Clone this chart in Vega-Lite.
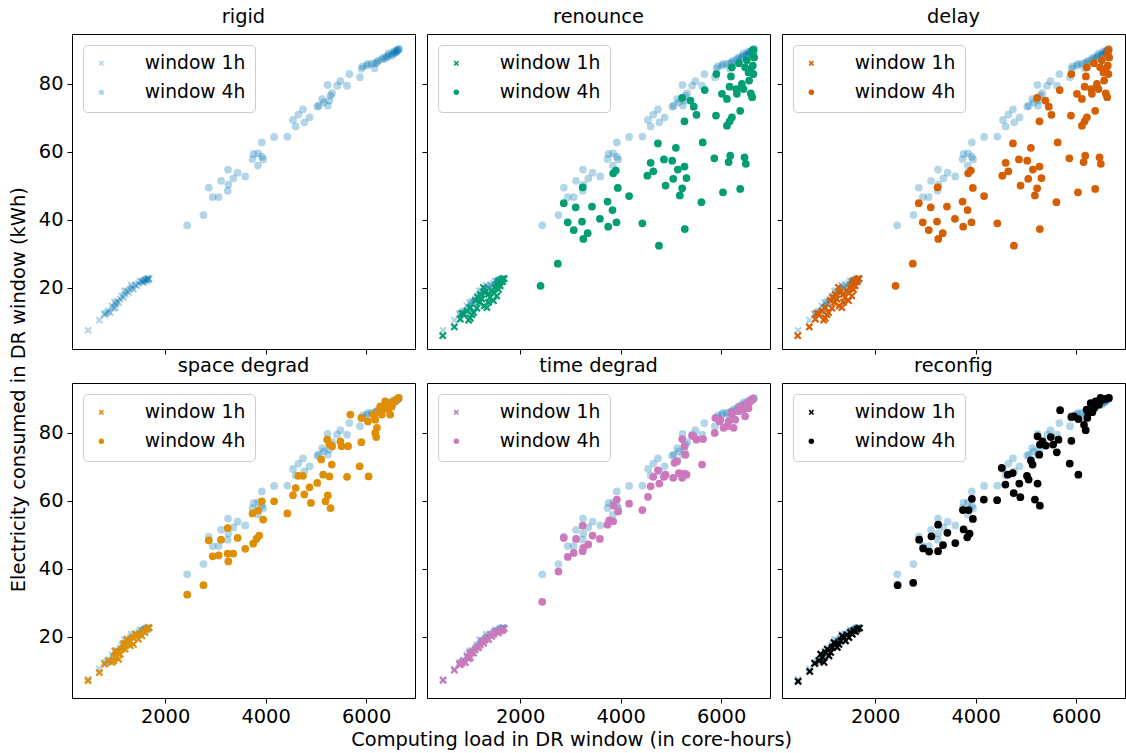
{
"$schema": "https://vega.github.io/schema/vega-lite/v6.json",
"background": "white",
"padding": {"left": 9, "top": 6, "right": 2, "bottom": 3},
"config": {
  "font": "DejaVu Sans",
  "view": {"stroke": "black", "strokeWidth": 1},
  "axis": {"domain": false, "grid": false, "tickColor": "black", "tickSize": 5, "tickWidth": 1, "labelFont": "DejaVu Sans", "labelFontSize": 19.4, "labelColor": "black", "labelPadding": 4, "title": null},
  "title": {"font": "DejaVu Sans", "fontSize": 19.4, "fontWeight": "normal", "color": "black"},
  "legend": {"title": null, "orient": "top-left", "offset": 11, "padding": 9, "fillColor": "white", "strokeColor": "#cccccc", "cornerRadius": 4, "labelFont": "DejaVu Sans", "labelFontSize": 18.7, "labelColor": "black", "symbolSize": 30, "symbolStrokeWidth": 0, "rowPadding": 9, "labelOffset": 34, "symbolOffset": 0}
},
"data": {"values": [
{"p":"rigid","w":"1h","x":468,"y":7.5},{"p":"rigid","w":"1h","x":692,"y":10.5},{"p":"rigid","w":"1h","x":791,"y":12.4},{"p":"rigid","w":"1h","x":811,"y":12.1},{"p":"rigid","w":"1h","x":844,"y":12.7},{"p":"rigid","w":"1h","x":877,"y":13.2},{"p":"rigid","w":"1h","x":910,"y":12.7},{"p":"rigid","w":"1h","x":943,"y":14.7},{"p":"rigid","w":"1h","x":976,"y":14.0},{"p":"rigid","w":"1h","x":996,"y":15.7},{"p":"rigid","w":"1h","x":1009,"y":14.2},{"p":"rigid","w":"1h","x":1022,"y":15.2},{"p":"rigid","w":"1h","x":1042,"y":16.0},{"p":"rigid","w":"1h","x":1075,"y":15.7},{"p":"rigid","w":"1h","x":1108,"y":16.7},{"p":"rigid","w":"1h","x":1141,"y":17.6},{"p":"rigid","w":"1h","x":1174,"y":17.2},{"p":"rigid","w":"1h","x":1194,"y":19.1},{"p":"rigid","w":"1h","x":1207,"y":18.1},{"p":"rigid","w":"1h","x":1240,"y":19.1},{"p":"rigid","w":"1h","x":1273,"y":18.6},{"p":"rigid","w":"1h","x":1306,"y":19.6},{"p":"rigid","w":"1h","x":1326,"y":20.8},{"p":"rigid","w":"1h","x":1339,"y":20.1},{"p":"rigid","w":"1h","x":1372,"y":19.6},{"p":"rigid","w":"1h","x":1405,"y":20.9},{"p":"rigid","w":"1h","x":1438,"y":20.6},{"p":"rigid","w":"1h","x":1471,"y":21.3},{"p":"rigid","w":"1h","x":1504,"y":22.0},{"p":"rigid","w":"1h","x":1537,"y":21.9},{"p":"rigid","w":"1h","x":1570,"y":21.6},{"p":"rigid","w":"1h","x":1603,"y":22.2},{"p":"rigid","w":"1h","x":1620,"y":22.5},{"p":"rigid","w":"1h","x":1636,"y":22.1},{"p":"rigid","w":"1h","x":1650,"y":22.7},{"p":"rigid","w":"1h","x":1669,"y":22.5},{"p":"rigid","w":"1h","x":1682,"y":22.6},{"p":"rigid","w":"1h","x":1590,"y":22.3},{"p":"rigid","w":"1h","x":1560,"y":21.8},{"p":"rigid","w":"1h","x":1660,"y":22.8},
{"p":"rigid","w":"4h","x":2441,"y":38.4},{"p":"rigid","w":"4h","x":2764,"y":41.4},{"p":"rigid","w":"4h","x":2870,"y":49.5},{"p":"rigid","w":"4h","x":2949,"y":46.7},{"p":"rigid","w":"4h","x":3068,"y":46.7},{"p":"rigid","w":"4h","x":3114,"y":51.5},{"p":"rigid","w":"4h","x":3246,"y":48.6},{"p":"rigid","w":"4h","x":3259,"y":50.4},{"p":"rigid","w":"4h","x":3253,"y":54.8},{"p":"rigid","w":"4h","x":3358,"y":52.2},{"p":"rigid","w":"4h","x":3444,"y":53.9},{"p":"rigid","w":"4h","x":3596,"y":52.8},{"p":"rigid","w":"4h","x":3741,"y":57.9},{"p":"rigid","w":"4h","x":3761,"y":59.4},{"p":"rigid","w":"4h","x":3853,"y":59.6},{"p":"rigid","w":"4h","x":3847,"y":56.0},{"p":"rigid","w":"4h","x":3926,"y":58.6},{"p":"rigid","w":"4h","x":3952,"y":57.8},{"p":"rigid","w":"4h","x":3926,"y":62.8},{"p":"rigid","w":"4h","x":4170,"y":64.4},{"p":"rigid","w":"4h","x":4434,"y":64.5},{"p":"rigid","w":"4h","x":4546,"y":69.4},{"p":"rigid","w":"4h","x":4599,"y":67.5},{"p":"rigid","w":"4h","x":4652,"y":71.0},{"p":"rigid","w":"4h","x":4744,"y":72.5},{"p":"rigid","w":"4h","x":4771,"y":68.7},{"p":"rigid","w":"4h","x":4876,"y":70.2},{"p":"rigid","w":"4h","x":5028,"y":73.3},{"p":"rigid","w":"4h","x":5061,"y":73.6},{"p":"rigid","w":"4h","x":5127,"y":75.5},{"p":"rigid","w":"4h","x":5160,"y":74.6},{"p":"rigid","w":"4h","x":5239,"y":73.6},{"p":"rigid","w":"4h","x":5272,"y":75.1},{"p":"rigid","w":"4h","x":5292,"y":76.6},{"p":"rigid","w":"4h","x":5325,"y":77.3},{"p":"rigid","w":"4h","x":5233,"y":79.7},{"p":"rigid","w":"4h","x":5424,"y":79.5},{"p":"rigid","w":"4h","x":5490,"y":80.8},{"p":"rigid","w":"4h","x":5622,"y":79.5},{"p":"rigid","w":"4h","x":5668,"y":82.9},{"p":"rigid","w":"4h","x":5879,"y":82.0},{"p":"rigid","w":"4h","x":5912,"y":84.5},{"p":"rigid","w":"4h","x":6018,"y":85.4},{"p":"rigid","w":"4h","x":6117,"y":85.9},{"p":"rigid","w":"4h","x":6170,"y":84.6},{"p":"rigid","w":"4h","x":6216,"y":86.4},{"p":"rigid","w":"4h","x":6249,"y":86.9},{"p":"rigid","w":"4h","x":6348,"y":87.8},{"p":"rigid","w":"4h","x":6381,"y":87.4},{"p":"rigid","w":"4h","x":6447,"y":88.3},{"p":"rigid","w":"4h","x":6513,"y":88.8},{"p":"rigid","w":"4h","x":6579,"y":89.3},{"p":"rigid","w":"4h","x":6645,"y":90.0},{"p":"rigid","w":"4h","x":6447,"y":89.0},{"p":"rigid","w":"4h","x":6546,"y":89.6},{"p":"rigid","w":"4h","x":6612,"y":89.8},{"p":"rigid","w":"4h","x":6658,"y":90.3},{"p":"rigid","w":"4h","x":6513,"y":88.3},{"p":"rigid","w":"4h","x":6414,"y":88.0},{"p":"rigid","w":"4h","x":6315,"y":87.3},{"p":"rigid","w":"4h","x":6183,"y":86.1},{"p":"rigid","w":"4h","x":6038,"y":85.9},{"p":"rigid","w":"4h","x":5932,"y":85.2},{"p":"rigid","w":"4h","x":6600,"y":89.5},{"p":"rigid","w":"4h","x":6630,"y":90.1},{"p":"rigid","w":"4h","x":6570,"y":89.0},
{"p":"renounce","w":"1h","x":461,"y":5.9},{"p":"renounce","w":"1h","x":692,"y":8.5},{"p":"renounce","w":"1h","x":811,"y":10.8},{"p":"renounce","w":"1h","x":877,"y":12.3},{"p":"renounce","w":"1h","x":976,"y":10.5},{"p":"renounce","w":"1h","x":1009,"y":11.1},{"p":"renounce","w":"1h","x":1075,"y":12.7},{"p":"renounce","w":"1h","x":1141,"y":14.0},{"p":"renounce","w":"1h","x":1194,"y":15.7},{"p":"renounce","w":"1h","x":1240,"y":16.7},{"p":"renounce","w":"1h","x":1286,"y":14.7},{"p":"renounce","w":"1h","x":1339,"y":14.2},{"p":"renounce","w":"1h","x":1372,"y":18.1},{"p":"renounce","w":"1h","x":1438,"y":19.3},{"p":"renounce","w":"1h","x":1471,"y":16.2},{"p":"renounce","w":"1h","x":1504,"y":20.1},{"p":"renounce","w":"1h","x":1537,"y":21.1},{"p":"renounce","w":"1h","x":1570,"y":22.1},{"p":"renounce","w":"1h","x":1603,"y":20.6},{"p":"renounce","w":"1h","x":1636,"y":22.5},{"p":"renounce","w":"1h","x":1682,"y":22.7},{"p":"renounce","w":"1h","x":1537,"y":17.6},{"p":"renounce","w":"1h","x":1405,"y":17.2},{"p":"renounce","w":"1h","x":1306,"y":18.6},{"p":"renounce","w":"1h","x":1207,"y":18.1},{"p":"renounce","w":"1h","x":1108,"y":16.2},{"p":"renounce","w":"1h","x":1009,"y":14.2},{"p":"renounce","w":"1h","x":943,"y":13.2},{"p":"renounce","w":"1h","x":844,"y":12.5},{"p":"renounce","w":"1h","x":1042,"y":12.1},{"p":"renounce","w":"1h","x":1372,"y":15.7},{"p":"renounce","w":"1h","x":1471,"y":18.6},{"p":"renounce","w":"1h","x":1603,"y":21.6},{"p":"renounce","w":"1h","x":1273,"y":20.1},{"p":"renounce","w":"1h","x":1154,"y":17.2},{"p":"renounce","w":"1h","x":1650,"y":21.8},{"p":"renounce","w":"1h","x":1570,"y":19.5},
{"p":"renounce","w":"4h","x":2408,"y":20.6},{"p":"renounce","w":"4h","x":2751,"y":27.1},{"p":"renounce","w":"4h","x":2870,"y":44.9},{"p":"renounce","w":"4h","x":2949,"y":39.3},{"p":"renounce","w":"4h","x":3068,"y":37.0},{"p":"renounce","w":"4h","x":3107,"y":43.7},{"p":"renounce","w":"4h","x":3233,"y":39.5},{"p":"renounce","w":"4h","x":3246,"y":49.6},{"p":"renounce","w":"4h","x":3259,"y":34.4},{"p":"renounce","w":"4h","x":3345,"y":36.1},{"p":"renounce","w":"4h","x":3431,"y":43.9},{"p":"renounce","w":"4h","x":3589,"y":40.3},{"p":"renounce","w":"4h","x":3741,"y":45.4},{"p":"renounce","w":"4h","x":3754,"y":38.0},{"p":"renounce","w":"4h","x":3840,"y":42.9},{"p":"renounce","w":"4h","x":3853,"y":53.7},{"p":"renounce","w":"4h","x":3906,"y":54.5},{"p":"renounce","w":"4h","x":3919,"y":39.3},{"p":"renounce","w":"4h","x":3946,"y":49.4},{"p":"renounce","w":"4h","x":4170,"y":47.0},{"p":"renounce","w":"4h","x":4434,"y":39.0},{"p":"renounce","w":"4h","x":4533,"y":53.0},{"p":"renounce","w":"4h","x":4599,"y":56.8},{"p":"renounce","w":"4h","x":4652,"y":54.3},{"p":"renounce","w":"4h","x":4744,"y":62.5},{"p":"renounce","w":"4h","x":4764,"y":32.4},{"p":"renounce","w":"4h","x":4863,"y":57.8},{"p":"renounce","w":"4h","x":4896,"y":50.1},{"p":"renounce","w":"4h","x":5028,"y":57.4},{"p":"renounce","w":"4h","x":5048,"y":52.1},{"p":"renounce","w":"4h","x":5101,"y":61.2},{"p":"renounce","w":"4h","x":5140,"y":54.8},{"p":"renounce","w":"4h","x":5180,"y":47.2},{"p":"renounce","w":"4h","x":5226,"y":49.3},{"p":"renounce","w":"4h","x":5272,"y":55.7},{"p":"renounce","w":"4h","x":5279,"y":37.3},{"p":"renounce","w":"4h","x":5312,"y":52.3},{"p":"renounce","w":"4h","x":5226,"y":75.9},{"p":"renounce","w":"4h","x":5272,"y":69.0},{"p":"renounce","w":"4h","x":5391,"y":75.1},{"p":"renounce","w":"4h","x":5457,"y":73.3},{"p":"renounce","w":"4h","x":5510,"y":70.9},{"p":"renounce","w":"4h","x":5609,"y":45.2},{"p":"renounce","w":"4h","x":5635,"y":62.8},{"p":"renounce","w":"4h","x":5675,"y":78.2},{"p":"renounce","w":"4h","x":5866,"y":58.1},{"p":"renounce","w":"4h","x":5899,"y":70.7},{"p":"renounce","w":"4h","x":5906,"y":82.9},{"p":"renounce","w":"4h","x":6018,"y":77.1},{"p":"renounce","w":"4h","x":6038,"y":48.1},{"p":"renounce","w":"4h","x":6117,"y":75.6},{"p":"renounce","w":"4h","x":6150,"y":57.0},{"p":"renounce","w":"4h","x":6183,"y":58.9},{"p":"renounce","w":"4h","x":6117,"y":67.7},{"p":"renounce","w":"4h","x":6170,"y":69.0},{"p":"renounce","w":"4h","x":6216,"y":70.2},{"p":"renounce","w":"4h","x":6170,"y":79.2},{"p":"renounce","w":"4h","x":6196,"y":82.2},{"p":"renounce","w":"4h","x":6216,"y":84.9},{"p":"renounce","w":"4h","x":6302,"y":78.5},{"p":"renounce","w":"4h","x":6315,"y":77.1},{"p":"renounce","w":"4h","x":6355,"y":86.1},{"p":"renounce","w":"4h","x":6381,"y":72.1},{"p":"renounce","w":"4h","x":6381,"y":49.1},{"p":"renounce","w":"4h","x":6414,"y":80.0},{"p":"renounce","w":"4h","x":6447,"y":78.5},{"p":"renounce","w":"4h","x":6467,"y":58.4},{"p":"renounce","w":"4h","x":6493,"y":56.5},{"p":"renounce","w":"4h","x":6513,"y":87.0},{"p":"renounce","w":"4h","x":6546,"y":83.4},{"p":"renounce","w":"4h","x":6559,"y":81.0},{"p":"renounce","w":"4h","x":6592,"y":77.2},{"p":"renounce","w":"4h","x":6619,"y":76.1},{"p":"renounce","w":"4h","x":6632,"y":85.4},{"p":"renounce","w":"4h","x":6632,"y":88.8},{"p":"renounce","w":"4h","x":6645,"y":90.0},{"p":"renounce","w":"4h","x":6658,"y":87.8},{"p":"renounce","w":"4h","x":6645,"y":82.9},{"p":"renounce","w":"4h","x":6592,"y":84.1},{"p":"renounce","w":"4h","x":6480,"y":84.9},
{"p":"delay","w":"1h","x":461,"y":5.9},{"p":"delay","w":"1h","x":692,"y":8.5},{"p":"delay","w":"1h","x":811,"y":10.8},{"p":"delay","w":"1h","x":877,"y":12.3},{"p":"delay","w":"1h","x":976,"y":10.5},{"p":"delay","w":"1h","x":1009,"y":11.1},{"p":"delay","w":"1h","x":1075,"y":12.7},{"p":"delay","w":"1h","x":1141,"y":14.0},{"p":"delay","w":"1h","x":1194,"y":15.7},{"p":"delay","w":"1h","x":1240,"y":16.7},{"p":"delay","w":"1h","x":1286,"y":14.7},{"p":"delay","w":"1h","x":1339,"y":14.2},{"p":"delay","w":"1h","x":1372,"y":18.1},{"p":"delay","w":"1h","x":1438,"y":19.3},{"p":"delay","w":"1h","x":1471,"y":16.2},{"p":"delay","w":"1h","x":1504,"y":20.1},{"p":"delay","w":"1h","x":1537,"y":21.1},{"p":"delay","w":"1h","x":1570,"y":22.1},{"p":"delay","w":"1h","x":1603,"y":20.6},{"p":"delay","w":"1h","x":1636,"y":22.5},{"p":"delay","w":"1h","x":1682,"y":22.7},{"p":"delay","w":"1h","x":1537,"y":17.6},{"p":"delay","w":"1h","x":1405,"y":17.2},{"p":"delay","w":"1h","x":1306,"y":18.6},{"p":"delay","w":"1h","x":1207,"y":18.1},{"p":"delay","w":"1h","x":1108,"y":16.2},{"p":"delay","w":"1h","x":1009,"y":14.2},{"p":"delay","w":"1h","x":943,"y":13.2},{"p":"delay","w":"1h","x":844,"y":12.5},{"p":"delay","w":"1h","x":1042,"y":12.1},{"p":"delay","w":"1h","x":1372,"y":15.7},{"p":"delay","w":"1h","x":1471,"y":18.6},{"p":"delay","w":"1h","x":1603,"y":21.6},{"p":"delay","w":"1h","x":1273,"y":20.1},{"p":"delay","w":"1h","x":1154,"y":17.2},{"p":"delay","w":"1h","x":1650,"y":21.8},{"p":"delay","w":"1h","x":1570,"y":19.5},
{"p":"delay","w":"4h","x":2408,"y":20.6},{"p":"delay","w":"4h","x":2751,"y":27.1},{"p":"delay","w":"4h","x":2870,"y":44.9},{"p":"delay","w":"4h","x":2949,"y":39.3},{"p":"delay","w":"4h","x":3068,"y":37.0},{"p":"delay","w":"4h","x":3107,"y":43.7},{"p":"delay","w":"4h","x":3233,"y":39.5},{"p":"delay","w":"4h","x":3246,"y":49.6},{"p":"delay","w":"4h","x":3259,"y":34.4},{"p":"delay","w":"4h","x":3345,"y":36.1},{"p":"delay","w":"4h","x":3431,"y":43.9},{"p":"delay","w":"4h","x":3589,"y":40.3},{"p":"delay","w":"4h","x":3741,"y":45.4},{"p":"delay","w":"4h","x":3754,"y":38.0},{"p":"delay","w":"4h","x":3840,"y":42.9},{"p":"delay","w":"4h","x":3853,"y":53.7},{"p":"delay","w":"4h","x":3906,"y":54.5},{"p":"delay","w":"4h","x":3919,"y":39.3},{"p":"delay","w":"4h","x":3946,"y":49.4},{"p":"delay","w":"4h","x":4170,"y":47.0},{"p":"delay","w":"4h","x":4434,"y":39.0},{"p":"delay","w":"4h","x":4533,"y":53.0},{"p":"delay","w":"4h","x":4599,"y":56.8},{"p":"delay","w":"4h","x":4652,"y":54.3},{"p":"delay","w":"4h","x":4744,"y":62.5},{"p":"delay","w":"4h","x":4764,"y":32.4},{"p":"delay","w":"4h","x":4863,"y":57.8},{"p":"delay","w":"4h","x":4896,"y":50.1},{"p":"delay","w":"4h","x":5028,"y":57.4},{"p":"delay","w":"4h","x":5048,"y":52.1},{"p":"delay","w":"4h","x":5101,"y":61.2},{"p":"delay","w":"4h","x":5140,"y":54.8},{"p":"delay","w":"4h","x":5180,"y":47.2},{"p":"delay","w":"4h","x":5226,"y":49.3},{"p":"delay","w":"4h","x":5272,"y":55.7},{"p":"delay","w":"4h","x":5279,"y":37.3},{"p":"delay","w":"4h","x":5312,"y":52.3},{"p":"delay","w":"4h","x":5226,"y":75.9},{"p":"delay","w":"4h","x":5272,"y":69.0},{"p":"delay","w":"4h","x":5391,"y":75.1},{"p":"delay","w":"4h","x":5457,"y":73.3},{"p":"delay","w":"4h","x":5510,"y":70.9},{"p":"delay","w":"4h","x":5609,"y":45.2},{"p":"delay","w":"4h","x":5635,"y":62.8},{"p":"delay","w":"4h","x":5675,"y":78.2},{"p":"delay","w":"4h","x":5866,"y":58.1},{"p":"delay","w":"4h","x":5899,"y":70.7},{"p":"delay","w":"4h","x":5906,"y":82.9},{"p":"delay","w":"4h","x":6018,"y":77.1},{"p":"delay","w":"4h","x":6038,"y":48.1},{"p":"delay","w":"4h","x":6117,"y":75.6},{"p":"delay","w":"4h","x":6150,"y":57.0},{"p":"delay","w":"4h","x":6183,"y":58.9},{"p":"delay","w":"4h","x":6117,"y":67.7},{"p":"delay","w":"4h","x":6170,"y":69.0},{"p":"delay","w":"4h","x":6216,"y":70.2},{"p":"delay","w":"4h","x":6170,"y":79.2},{"p":"delay","w":"4h","x":6196,"y":82.2},{"p":"delay","w":"4h","x":6216,"y":84.9},{"p":"delay","w":"4h","x":6302,"y":78.5},{"p":"delay","w":"4h","x":6315,"y":77.1},{"p":"delay","w":"4h","x":6355,"y":86.1},{"p":"delay","w":"4h","x":6381,"y":72.1},{"p":"delay","w":"4h","x":6381,"y":49.1},{"p":"delay","w":"4h","x":6414,"y":80.0},{"p":"delay","w":"4h","x":6447,"y":78.5},{"p":"delay","w":"4h","x":6467,"y":58.4},{"p":"delay","w":"4h","x":6493,"y":56.5},{"p":"delay","w":"4h","x":6513,"y":87.0},{"p":"delay","w":"4h","x":6546,"y":83.4},{"p":"delay","w":"4h","x":6559,"y":81.0},{"p":"delay","w":"4h","x":6592,"y":77.2},{"p":"delay","w":"4h","x":6619,"y":76.1},{"p":"delay","w":"4h","x":6632,"y":85.4},{"p":"delay","w":"4h","x":6632,"y":88.8},{"p":"delay","w":"4h","x":6645,"y":90.0},{"p":"delay","w":"4h","x":6658,"y":87.8},{"p":"delay","w":"4h","x":6645,"y":82.9},{"p":"delay","w":"4h","x":6592,"y":84.1},{"p":"delay","w":"4h","x":6480,"y":84.9},
{"p":"space","w":"1h","x":468,"y":7.1},{"p":"space","w":"1h","x":692,"y":9.5},{"p":"space","w":"1h","x":798,"y":12.0},{"p":"space","w":"1h","x":877,"y":13.0},{"p":"space","w":"1h","x":943,"y":12.5},{"p":"space","w":"1h","x":996,"y":14.1},{"p":"space","w":"1h","x":1042,"y":15.4},{"p":"space","w":"1h","x":1075,"y":13.4},{"p":"space","w":"1h","x":1141,"y":16.4},{"p":"space","w":"1h","x":1207,"y":17.8},{"p":"space","w":"1h","x":1273,"y":18.8},{"p":"space","w":"1h","x":1306,"y":17.4},{"p":"space","w":"1h","x":1372,"y":19.6},{"p":"space","w":"1h","x":1438,"y":20.6},{"p":"space","w":"1h","x":1504,"y":21.0},{"p":"space","w":"1h","x":1570,"y":21.8},{"p":"space","w":"1h","x":1636,"y":22.3},{"p":"space","w":"1h","x":1682,"y":22.7},{"p":"space","w":"1h","x":1471,"y":19.3},{"p":"space","w":"1h","x":1372,"y":17.8},{"p":"space","w":"1h","x":1207,"y":16.4},{"p":"space","w":"1h","x":1108,"y":14.9},{"p":"space","w":"1h","x":976,"y":12.9},{"p":"space","w":"1h","x":1009,"y":15.9},{"p":"space","w":"1h","x":1405,"y":20.8},{"p":"space","w":"1h","x":1537,"y":20.3},{"p":"space","w":"1h","x":1603,"y":21.3},{"p":"space","w":"1h","x":1240,"y":19.3},{"p":"space","w":"1h","x":1174,"y":18.0},
{"p":"space","w":"4h","x":2441,"y":32.4},{"p":"space","w":"4h","x":2764,"y":35.2},{"p":"space","w":"4h","x":2870,"y":48.4},{"p":"space","w":"4h","x":2949,"y":43.7},{"p":"space","w":"4h","x":3068,"y":44.0},{"p":"space","w":"4h","x":3114,"y":48.6},{"p":"space","w":"4h","x":3246,"y":52.0},{"p":"space","w":"4h","x":3246,"y":44.5},{"p":"space","w":"4h","x":3259,"y":42.2},{"p":"space","w":"4h","x":3358,"y":44.5},{"p":"space","w":"4h","x":3444,"y":49.1},{"p":"space","w":"4h","x":3596,"y":45.9},{"p":"space","w":"4h","x":3754,"y":47.4},{"p":"space","w":"4h","x":3820,"y":48.8},{"p":"space","w":"4h","x":3873,"y":49.8},{"p":"space","w":"4h","x":3741,"y":56.3},{"p":"space","w":"4h","x":3853,"y":57.2},{"p":"space","w":"4h","x":3926,"y":59.9},{"p":"space","w":"4h","x":3952,"y":54.5},{"p":"space","w":"4h","x":4170,"y":59.9},{"p":"space","w":"4h","x":4434,"y":56.3},{"p":"space","w":"4h","x":4546,"y":61.7},{"p":"space","w":"4h","x":4599,"y":63.8},{"p":"space","w":"4h","x":4652,"y":67.4},{"p":"space","w":"4h","x":4744,"y":67.4},{"p":"space","w":"4h","x":4771,"y":61.9},{"p":"space","w":"4h","x":4876,"y":64.0},{"p":"space","w":"4h","x":4903,"y":59.4},{"p":"space","w":"4h","x":5028,"y":65.3},{"p":"space","w":"4h","x":5107,"y":72.2},{"p":"space","w":"4h","x":5147,"y":67.7},{"p":"space","w":"4h","x":5193,"y":59.9},{"p":"space","w":"4h","x":5239,"y":61.6},{"p":"space","w":"4h","x":5272,"y":67.2},{"p":"space","w":"4h","x":5292,"y":57.9},{"p":"space","w":"4h","x":5318,"y":70.7},{"p":"space","w":"4h","x":5226,"y":78.0},{"p":"space","w":"4h","x":5272,"y":76.6},{"p":"space","w":"4h","x":5325,"y":76.1},{"p":"space","w":"4h","x":5490,"y":77.5},{"p":"space","w":"4h","x":5510,"y":76.1},{"p":"space","w":"4h","x":5642,"y":76.1},{"p":"space","w":"4h","x":5622,"y":67.1},{"p":"space","w":"4h","x":5688,"y":85.4},{"p":"space","w":"4h","x":5873,"y":70.2},{"p":"space","w":"4h","x":5906,"y":77.3},{"p":"space","w":"4h","x":5906,"y":84.4},{"p":"space","w":"4h","x":6038,"y":83.4},{"p":"space","w":"4h","x":6051,"y":67.2},{"p":"space","w":"4h","x":6183,"y":80.0},{"p":"space","w":"4h","x":6216,"y":81.5},{"p":"space","w":"4h","x":6203,"y":78.8},{"p":"space","w":"4h","x":6150,"y":85.4},{"p":"space","w":"4h","x":6249,"y":86.4},{"p":"space","w":"4h","x":6315,"y":85.4},{"p":"space","w":"4h","x":6348,"y":87.3},{"p":"space","w":"4h","x":6414,"y":88.3},{"p":"space","w":"4h","x":6480,"y":88.8},{"p":"space","w":"4h","x":6546,"y":89.3},{"p":"space","w":"4h","x":6612,"y":89.8},{"p":"space","w":"4h","x":6645,"y":90.3},{"p":"space","w":"4h","x":6447,"y":86.9},{"p":"space","w":"4h","x":6513,"y":87.8},{"p":"space","w":"4h","x":6381,"y":89.3},{"p":"space","w":"4h","x":6282,"y":87.8},{"p":"space","w":"4h","x":6183,"y":83.9},{"p":"space","w":"4h","x":6480,"y":85.4},
{"p":"time","w":"1h","x":468,"y":7.2},{"p":"time","w":"1h","x":692,"y":10.2},{"p":"time","w":"1h","x":791,"y":11.9},{"p":"time","w":"1h","x":811,"y":11.8},{"p":"time","w":"1h","x":844,"y":12.3},{"p":"time","w":"1h","x":877,"y":12.9},{"p":"time","w":"1h","x":910,"y":12.4},{"p":"time","w":"1h","x":943,"y":14.2},{"p":"time","w":"1h","x":976,"y":13.6},{"p":"time","w":"1h","x":996,"y":15.2},{"p":"time","w":"1h","x":1009,"y":13.8},{"p":"time","w":"1h","x":1042,"y":15.5},{"p":"time","w":"1h","x":1075,"y":15.2},{"p":"time","w":"1h","x":1108,"y":16.2},{"p":"time","w":"1h","x":1141,"y":17.0},{"p":"time","w":"1h","x":1174,"y":16.8},{"p":"time","w":"1h","x":1207,"y":17.6},{"p":"time","w":"1h","x":1240,"y":18.6},{"p":"time","w":"1h","x":1273,"y":18.1},{"p":"time","w":"1h","x":1306,"y":19.1},{"p":"time","w":"1h","x":1339,"y":19.6},{"p":"time","w":"1h","x":1372,"y":19.2},{"p":"time","w":"1h","x":1405,"y":20.4},{"p":"time","w":"1h","x":1438,"y":20.1},{"p":"time","w":"1h","x":1471,"y":20.8},{"p":"time","w":"1h","x":1504,"y":21.5},{"p":"time","w":"1h","x":1537,"y":21.4},{"p":"time","w":"1h","x":1570,"y":21.2},{"p":"time","w":"1h","x":1603,"y":21.8},{"p":"time","w":"1h","x":1636,"y":21.8},{"p":"time","w":"1h","x":1669,"y":22.2},{"p":"time","w":"1h","x":1682,"y":22.4},
{"p":"time","w":"4h","x":2441,"y":30.3},{"p":"time","w":"4h","x":2764,"y":39.2},{"p":"time","w":"4h","x":2870,"y":49.1},{"p":"time","w":"4h","x":2949,"y":43.5},{"p":"time","w":"4h","x":3068,"y":44.7},{"p":"time","w":"4h","x":3114,"y":48.8},{"p":"time","w":"4h","x":3246,"y":52.7},{"p":"time","w":"4h","x":3246,"y":45.2},{"p":"time","w":"4h","x":3259,"y":46.2},{"p":"time","w":"4h","x":3358,"y":47.2},{"p":"time","w":"4h","x":3444,"y":49.8},{"p":"time","w":"4h","x":3589,"y":48.8},{"p":"time","w":"4h","x":3741,"y":53.0},{"p":"time","w":"4h","x":3774,"y":54.3},{"p":"time","w":"4h","x":3853,"y":54.0},{"p":"time","w":"4h","x":3860,"y":58.6},{"p":"time","w":"4h","x":3926,"y":60.4},{"p":"time","w":"4h","x":3952,"y":56.9},{"p":"time","w":"4h","x":4170,"y":59.2},{"p":"time","w":"4h","x":4434,"y":57.3},{"p":"time","w":"4h","x":4546,"y":61.2},{"p":"time","w":"4h","x":4599,"y":64.3},{"p":"time","w":"4h","x":4652,"y":67.1},{"p":"time","w":"4h","x":4744,"y":69.0},{"p":"time","w":"4h","x":4771,"y":65.1},{"p":"time","w":"4h","x":4863,"y":67.1},{"p":"time","w":"4h","x":4896,"y":67.7},{"p":"time","w":"4h","x":5048,"y":66.8},{"p":"time","w":"4h","x":5074,"y":71.2},{"p":"time","w":"4h","x":5127,"y":71.7},{"p":"time","w":"4h","x":5160,"y":68.2},{"p":"time","w":"4h","x":5226,"y":66.8},{"p":"time","w":"4h","x":5272,"y":68.0},{"p":"time","w":"4h","x":5312,"y":67.7},{"p":"time","w":"4h","x":5226,"y":78.2},{"p":"time","w":"4h","x":5272,"y":76.1},{"p":"time","w":"4h","x":5292,"y":73.6},{"p":"time","w":"4h","x":5424,"y":79.2},{"p":"time","w":"4h","x":5457,"y":79.0},{"p":"time","w":"4h","x":5510,"y":78.0},{"p":"time","w":"4h","x":5622,"y":70.7},{"p":"time","w":"4h","x":5642,"y":78.2},{"p":"time","w":"4h","x":5873,"y":80.0},{"p":"time","w":"4h","x":5886,"y":84.4},{"p":"time","w":"4h","x":5972,"y":83.4},{"p":"time","w":"4h","x":6051,"y":81.5},{"p":"time","w":"4h","x":6117,"y":82.0},{"p":"time","w":"4h","x":6150,"y":83.4},{"p":"time","w":"4h","x":6216,"y":85.4},{"p":"time","w":"4h","x":6249,"y":81.5},{"p":"time","w":"4h","x":6282,"y":83.9},{"p":"time","w":"4h","x":6348,"y":86.4},{"p":"time","w":"4h","x":6381,"y":87.8},{"p":"time","w":"4h","x":6447,"y":86.9},{"p":"time","w":"4h","x":6480,"y":84.9},{"p":"time","w":"4h","x":6513,"y":88.8},{"p":"time","w":"4h","x":6579,"y":89.3},{"p":"time","w":"4h","x":6632,"y":90.0},{"p":"time","w":"4h","x":6546,"y":87.3},{"p":"time","w":"4h","x":5985,"y":83.9},{"p":"time","w":"4h","x":6216,"y":86.1},
{"p":"reconfig","w":"1h","x":469,"y":6.9},{"p":"reconfig","w":"1h","x":700,"y":9.8},{"p":"reconfig","w":"1h","x":799,"y":12.2},{"p":"reconfig","w":"1h","x":885,"y":13.0},{"p":"reconfig","w":"1h","x":951,"y":14.0},{"p":"reconfig","w":"1h","x":984,"y":12.5},{"p":"reconfig","w":"1h","x":1017,"y":15.4},{"p":"reconfig","w":"1h","x":1083,"y":14.4},{"p":"reconfig","w":"1h","x":1149,"y":16.9},{"p":"reconfig","w":"1h","x":1215,"y":17.8},{"p":"reconfig","w":"1h","x":1248,"y":16.9},{"p":"reconfig","w":"1h","x":1314,"y":18.8},{"p":"reconfig","w":"1h","x":1380,"y":19.8},{"p":"reconfig","w":"1h","x":1413,"y":18.8},{"p":"reconfig","w":"1h","x":1446,"y":20.6},{"p":"reconfig","w":"1h","x":1512,"y":21.3},{"p":"reconfig","w":"1h","x":1578,"y":21.8},{"p":"reconfig","w":"1h","x":1644,"y":22.3},{"p":"reconfig","w":"1h","x":1690,"y":22.6},{"p":"reconfig","w":"1h","x":1479,"y":19.8},{"p":"reconfig","w":"1h","x":1347,"y":20.3},{"p":"reconfig","w":"1h","x":1182,"y":18.3},{"p":"reconfig","w":"1h","x":1050,"y":16.4},{"p":"reconfig","w":"1h","x":918,"y":14.9},{"p":"reconfig","w":"1h","x":1281,"y":17.8},{"p":"reconfig","w":"1h","x":1545,"y":20.8},{"p":"reconfig","w":"1h","x":1611,"y":21.6},{"p":"reconfig","w":"1h","x":1116,"y":15.4},
{"p":"reconfig","w":"4h","x":2449,"y":35.2},{"p":"reconfig","w":"4h","x":2759,"y":35.9},{"p":"reconfig","w":"4h","x":2878,"y":48.6},{"p":"reconfig","w":"4h","x":2957,"y":46.0},{"p":"reconfig","w":"4h","x":3076,"y":45.1},{"p":"reconfig","w":"4h","x":3122,"y":49.6},{"p":"reconfig","w":"4h","x":3254,"y":53.0},{"p":"reconfig","w":"4h","x":3254,"y":45.2},{"p":"reconfig","w":"4h","x":3353,"y":47.0},{"p":"reconfig","w":"4h","x":3439,"y":50.6},{"p":"reconfig","w":"4h","x":3597,"y":47.6},{"p":"reconfig","w":"4h","x":3749,"y":57.3},{"p":"reconfig","w":"4h","x":3762,"y":51.6},{"p":"reconfig","w":"4h","x":3861,"y":57.3},{"p":"reconfig","w":"4h","x":3835,"y":49.3},{"p":"reconfig","w":"4h","x":3881,"y":50.4},{"p":"reconfig","w":"4h","x":3927,"y":60.6},{"p":"reconfig","w":"4h","x":3947,"y":54.7},{"p":"reconfig","w":"4h","x":4165,"y":60.4},{"p":"reconfig","w":"4h","x":4429,"y":60.2},{"p":"reconfig","w":"4h","x":4521,"y":69.7},{"p":"reconfig","w":"4h","x":4594,"y":64.8},{"p":"reconfig","w":"4h","x":4640,"y":67.7},{"p":"reconfig","w":"4h","x":4739,"y":68.2},{"p":"reconfig","w":"4h","x":4759,"y":62.3},{"p":"reconfig","w":"4h","x":4871,"y":65.1},{"p":"reconfig","w":"4h","x":4891,"y":61.1},{"p":"reconfig","w":"4h","x":5023,"y":67.4},{"p":"reconfig","w":"4h","x":5056,"y":66.3},{"p":"reconfig","w":"4h","x":5102,"y":71.9},{"p":"reconfig","w":"4h","x":5135,"y":70.7},{"p":"reconfig","w":"4h","x":5181,"y":60.4},{"p":"reconfig","w":"4h","x":5234,"y":65.1},{"p":"reconfig","w":"4h","x":5280,"y":58.6},{"p":"reconfig","w":"4h","x":5267,"y":73.6},{"p":"reconfig","w":"4h","x":5234,"y":79.0},{"p":"reconfig","w":"4h","x":5280,"y":76.6},{"p":"reconfig","w":"4h","x":5333,"y":77.5},{"p":"reconfig","w":"4h","x":5399,"y":76.3},{"p":"reconfig","w":"4h","x":5498,"y":78.8},{"p":"reconfig","w":"4h","x":5544,"y":76.6},{"p":"reconfig","w":"4h","x":5617,"y":74.3},{"p":"reconfig","w":"4h","x":5650,"y":78.0},{"p":"reconfig","w":"4h","x":5683,"y":86.7},{"p":"reconfig","w":"4h","x":5874,"y":71.0},{"p":"reconfig","w":"4h","x":5907,"y":77.7},{"p":"reconfig","w":"4h","x":5907,"y":84.7},{"p":"reconfig","w":"4h","x":6046,"y":84.1},{"p":"reconfig","w":"4h","x":6046,"y":67.7},{"p":"reconfig","w":"4h","x":6158,"y":82.4},{"p":"reconfig","w":"4h","x":6191,"y":80.8},{"p":"reconfig","w":"4h","x":6211,"y":86.9},{"p":"reconfig","w":"4h","x":6244,"y":85.9},{"p":"reconfig","w":"4h","x":6290,"y":88.8},{"p":"reconfig","w":"4h","x":6356,"y":87.3},{"p":"reconfig","w":"4h","x":6389,"y":89.3},{"p":"reconfig","w":"4h","x":6455,"y":88.3},{"p":"reconfig","w":"4h","x":6521,"y":89.8},{"p":"reconfig","w":"4h","x":6587,"y":90.0},{"p":"reconfig","w":"4h","x":6653,"y":90.3},{"p":"reconfig","w":"4h","x":6488,"y":90.3},{"p":"reconfig","w":"4h","x":6323,"y":86.1},{"p":"reconfig","w":"4h","x":6224,"y":84.4},{"p":"reconfig","w":"4h","x":5960,"y":84.9}
]},
"title": {"text": "Electricity consumed in DR window (kWh)", "orient": "left", "anchor": "middle", "offset": 8, "dx": -12},
"resolve": {"scale": {"shape": "independent"}, "legend": {"shape": "independent"}},
"vconcat": [{
  "title": {"text": "Computing load in DR window (in core-hours)", "orient": "bottom", "anchor": "middle", "offset": 5, "dx": -10},
  "columns": 3,
  "spacing": {"row": 34, "column": 12},
  "bounds": "flush",
  "resolve": {"scale": {"shape": "independent"}, "legend": {"shape": "independent"}},
  "concat": [
    {"title": {"text": "rigid", "offset": 7}, "width": 343, "height": 315,
     "encoding": {"x": {"field": "x", "type": "quantitative", "scale": {"domain": [148, 6974], "nice": false, "zero": false}, "axis": {"values": [2000, 4000, 6000], "labels": false}},
                  "y": {"field": "y", "type": "quantitative", "scale": {"domain": [2, 94.7], "nice": false, "zero": false}, "axis": {"values": [20, 40, 60, 80], "labels": true}}},
     "layer": [
       {"transform": [{"filter": "datum.p == 'rigid'"}],
        "mark": {"type": "point", "filled": true, "color": "#0173b2", "opacity": 0.3, "size": 60, "strokeWidth": 0},
        "encoding": {"shape": {"field": "w", "type": "nominal", "scale": {"domain": ["1h", "4h"], "range": ["M-1,-0.6L-0.6,-1L0,-0.4L0.6,-1L1,-0.6L0.4,0L1,0.6L0.6,1L0,0.4L-0.6,1L-1,0.6L-0.4,0Z", "circle"]},
          "legend": {"symbolFillColor": "#0173b2", "symbolOpacity": 0.3, "labelExpr": "'window ' + datum.label"}}}}
     ]},
    {"title": {"text": "renounce", "offset": 7}, "width": 343, "height": 315,
     "encoding": {"x": {"field": "x", "type": "quantitative", "scale": {"domain": [148, 6974], "nice": false, "zero": false}, "axis": {"values": [2000, 4000, 6000], "labels": false}},
                  "y": {"field": "y", "type": "quantitative", "scale": {"domain": [2, 94.7], "nice": false, "zero": false}, "axis": {"values": [20, 40, 60, 80], "labels": false}}},
     "layer": [
       {"transform": [{"filter": "datum.p == 'rigid' && datum.w == '1h'"}], "mark": {"type": "point", "shape": "M-1,-0.6L-0.6,-1L0,-0.4L0.6,-1L1,-0.6L0.4,0L1,0.6L0.6,1L0,0.4L-0.6,1L-1,0.6L-0.4,0Z", "filled": true, "color": "#0173b2", "opacity": 0.3, "size": 60, "strokeWidth": 0}},
       {"transform": [{"filter": "datum.p == 'rigid' && datum.w == '4h'"}], "mark": {"type": "point", "shape": "circle", "filled": true, "color": "#0173b2", "opacity": 0.3, "size": 60, "strokeWidth": 0}},
       {"transform": [{"filter": "datum.p == 'renounce'"}],
        "mark": {"type": "point", "filled": true, "color": "#029e73", "opacity": 1, "size": 60, "strokeWidth": 0},
        "encoding": {"shape": {"field": "w", "type": "nominal", "scale": {"domain": ["1h", "4h"], "range": ["M-1,-0.6L-0.6,-1L0,-0.4L0.6,-1L1,-0.6L0.4,0L1,0.6L0.6,1L0,0.4L-0.6,1L-1,0.6L-0.4,0Z", "circle"]},
          "legend": {"symbolFillColor": "#029e73", "symbolOpacity": 1, "labelExpr": "'window ' + datum.label"}}}}
     ]},
    {"title": {"text": "delay", "offset": 7}, "width": 343, "height": 315,
     "encoding": {"x": {"field": "x", "type": "quantitative", "scale": {"domain": [148, 6974], "nice": false, "zero": false}, "axis": {"values": [2000, 4000, 6000], "labels": false}},
                  "y": {"field": "y", "type": "quantitative", "scale": {"domain": [2, 94.7], "nice": false, "zero": false}, "axis": {"values": [20, 40, 60, 80], "labels": false}}},
     "layer": [
       {"transform": [{"filter": "datum.p == 'rigid' && datum.w == '1h'"}], "mark": {"type": "point", "shape": "M-1,-0.6L-0.6,-1L0,-0.4L0.6,-1L1,-0.6L0.4,0L1,0.6L0.6,1L0,0.4L-0.6,1L-1,0.6L-0.4,0Z", "filled": true, "color": "#0173b2", "opacity": 0.3, "size": 60, "strokeWidth": 0}},
       {"transform": [{"filter": "datum.p == 'rigid' && datum.w == '4h'"}], "mark": {"type": "point", "shape": "circle", "filled": true, "color": "#0173b2", "opacity": 0.3, "size": 60, "strokeWidth": 0}},
       {"transform": [{"filter": "datum.p == 'delay'"}],
        "mark": {"type": "point", "filled": true, "color": "#d55e00", "opacity": 1, "size": 60, "strokeWidth": 0},
        "encoding": {"shape": {"field": "w", "type": "nominal", "scale": {"domain": ["1h", "4h"], "range": ["M-1,-0.6L-0.6,-1L0,-0.4L0.6,-1L1,-0.6L0.4,0L1,0.6L0.6,1L0,0.4L-0.6,1L-1,0.6L-0.4,0Z", "circle"]},
          "legend": {"symbolFillColor": "#d55e00", "symbolOpacity": 1, "labelExpr": "'window ' + datum.label"}}}}
     ]},
    {"title": {"text": "space degrad", "offset": 7}, "width": 343, "height": 315,
     "encoding": {"x": {"field": "x", "type": "quantitative", "scale": {"domain": [148, 6974], "nice": false, "zero": false}, "axis": {"values": [2000, 4000, 6000], "labels": true, "format": "d"}},
                  "y": {"field": "y", "type": "quantitative", "scale": {"domain": [2, 94.7], "nice": false, "zero": false}, "axis": {"values": [20, 40, 60, 80], "labels": true}}},
     "layer": [
       {"transform": [{"filter": "datum.p == 'rigid' && datum.w == '1h'"}], "mark": {"type": "point", "shape": "M-1,-0.6L-0.6,-1L0,-0.4L0.6,-1L1,-0.6L0.4,0L1,0.6L0.6,1L0,0.4L-0.6,1L-1,0.6L-0.4,0Z", "filled": true, "color": "#0173b2", "opacity": 0.3, "size": 60, "strokeWidth": 0}},
       {"transform": [{"filter": "datum.p == 'rigid' && datum.w == '4h'"}], "mark": {"type": "point", "shape": "circle", "filled": true, "color": "#0173b2", "opacity": 0.3, "size": 60, "strokeWidth": 0}},
       {"transform": [{"filter": "datum.p == 'space'"}],
        "mark": {"type": "point", "filled": true, "color": "#de8f05", "opacity": 1, "size": 60, "strokeWidth": 0},
        "encoding": {"shape": {"field": "w", "type": "nominal", "scale": {"domain": ["1h", "4h"], "range": ["M-1,-0.6L-0.6,-1L0,-0.4L0.6,-1L1,-0.6L0.4,0L1,0.6L0.6,1L0,0.4L-0.6,1L-1,0.6L-0.4,0Z", "circle"]},
          "legend": {"symbolFillColor": "#de8f05", "symbolOpacity": 1, "labelExpr": "'window ' + datum.label"}}}}
     ]},
    {"title": {"text": "time degrad", "offset": 7}, "width": 343, "height": 315,
     "encoding": {"x": {"field": "x", "type": "quantitative", "scale": {"domain": [148, 6974], "nice": false, "zero": false}, "axis": {"values": [2000, 4000, 6000], "labels": true, "format": "d"}},
                  "y": {"field": "y", "type": "quantitative", "scale": {"domain": [2, 94.7], "nice": false, "zero": false}, "axis": {"values": [20, 40, 60, 80], "labels": false}}},
     "layer": [
       {"transform": [{"filter": "datum.p == 'rigid' && datum.w == '1h'"}], "mark": {"type": "point", "shape": "M-1,-0.6L-0.6,-1L0,-0.4L0.6,-1L1,-0.6L0.4,0L1,0.6L0.6,1L0,0.4L-0.6,1L-1,0.6L-0.4,0Z", "filled": true, "color": "#0173b2", "opacity": 0.3, "size": 60, "strokeWidth": 0}},
       {"transform": [{"filter": "datum.p == 'rigid' && datum.w == '4h'"}], "mark": {"type": "point", "shape": "circle", "filled": true, "color": "#0173b2", "opacity": 0.3, "size": 60, "strokeWidth": 0}},
       {"transform": [{"filter": "datum.p == 'time'"}],
        "mark": {"type": "point", "filled": true, "color": "#cc78bc", "opacity": 1, "size": 60, "strokeWidth": 0},
        "encoding": {"shape": {"field": "w", "type": "nominal", "scale": {"domain": ["1h", "4h"], "range": ["M-1,-0.6L-0.6,-1L0,-0.4L0.6,-1L1,-0.6L0.4,0L1,0.6L0.6,1L0,0.4L-0.6,1L-1,0.6L-0.4,0Z", "circle"]},
          "legend": {"symbolFillColor": "#cc78bc", "symbolOpacity": 1, "labelExpr": "'window ' + datum.label"}}}}
     ]},
    {"title": {"text": "reconfig", "offset": 7}, "width": 343, "height": 315,
     "encoding": {"x": {"field": "x", "type": "quantitative", "scale": {"domain": [148, 6974], "nice": false, "zero": false}, "axis": {"values": [2000, 4000, 6000], "labels": true, "format": "d"}},
                  "y": {"field": "y", "type": "quantitative", "scale": {"domain": [2, 94.7], "nice": false, "zero": false}, "axis": {"values": [20, 40, 60, 80], "labels": false}}},
     "layer": [
       {"transform": [{"filter": "datum.p == 'rigid' && datum.w == '1h'"}], "mark": {"type": "point", "shape": "M-1,-0.6L-0.6,-1L0,-0.4L0.6,-1L1,-0.6L0.4,0L1,0.6L0.6,1L0,0.4L-0.6,1L-1,0.6L-0.4,0Z", "filled": true, "color": "#0173b2", "opacity": 0.3, "size": 60, "strokeWidth": 0}},
       {"transform": [{"filter": "datum.p == 'rigid' && datum.w == '4h'"}], "mark": {"type": "point", "shape": "circle", "filled": true, "color": "#0173b2", "opacity": 0.3, "size": 60, "strokeWidth": 0}},
       {"transform": [{"filter": "datum.p == 'reconfig'"}],
        "mark": {"type": "point", "filled": true, "color": "#000000", "opacity": 1, "size": 60, "strokeWidth": 0},
        "encoding": {"shape": {"field": "w", "type": "nominal", "scale": {"domain": ["1h", "4h"], "range": ["M-1,-0.6L-0.6,-1L0,-0.4L0.6,-1L1,-0.6L0.4,0L1,0.6L0.6,1L0,0.4L-0.6,1L-1,0.6L-0.4,0Z", "circle"]},
          "legend": {"symbolFillColor": "#000000", "symbolOpacity": 1, "labelExpr": "'window ' + datum.label"}}}}
     ]}
  ]
}]
}
